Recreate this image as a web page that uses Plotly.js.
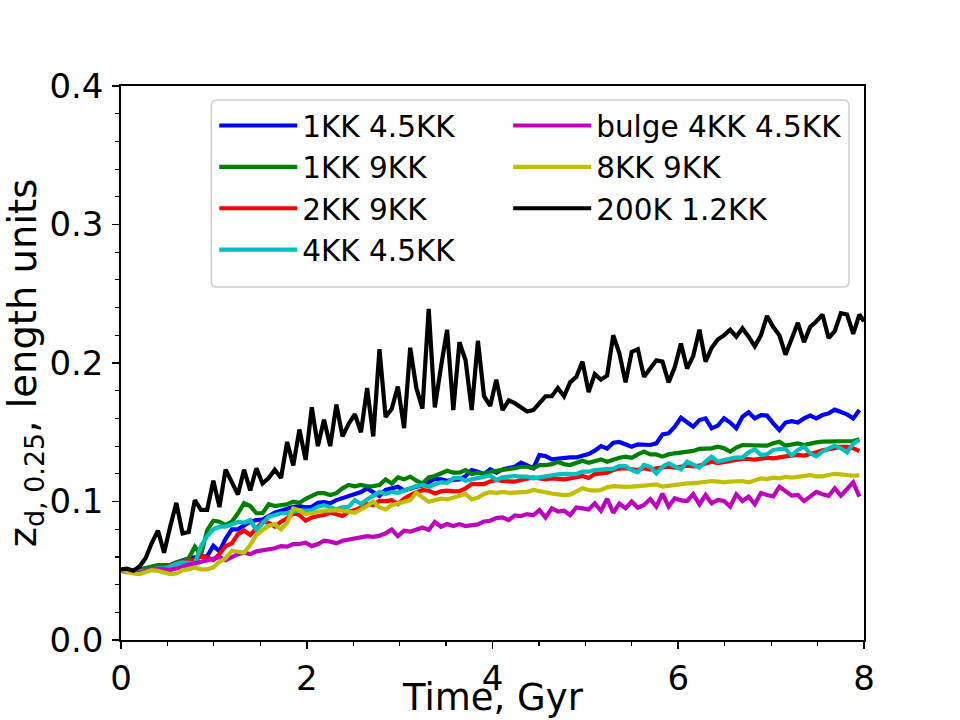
<!DOCTYPE html>
<html><head><meta charset="utf-8">
<script src="https://cdn.plot.ly/plotly-3.0.1.min.js"></script>
<style>html,body{margin:0;padding:0;background:#fff}#chart{width:960px;height:720px}</style>
</head><body><div id="chart"></div>
<script>
// Time, Gyr (snapshots of the coloured runs)
const time = [0,0.066,0.133,0.199,0.265,0.331,0.398,0.464,0.530,0.596,
0.663,0.729,0.795,0.861,0.928,0.994,1.060,1.126,1.193,1.259,
1.325,1.391,1.458,1.524,1.590,1.656,1.723,1.789,1.855,1.921,
1.988,2.054,2.120,2.186,2.253,2.319,2.385,2.451,2.518,2.584,
2.650,2.716,2.783,2.849,2.915,2.981,3.048,3.114,3.180,3.246,
3.313,3.379,3.445,3.511,3.578,3.644,3.710,3.776,3.843,3.909,
3.975,4.041,4.108,4.174,4.240,4.306,4.373,4.439,4.505,4.571,
4.638,4.704,4.770,4.836,4.903,4.969,5.035,5.101,5.168,5.234,
5.300,5.366,5.433,5.499,5.565,5.631,5.698,5.764,5.830,5.896,
5.963,6.029,6.095,6.161,6.228,6.294,6.360,6.426,6.493,6.559,
6.625,6.691,6.758,6.824,6.890,6.956,7.023,7.089,7.155,7.221,
7.288,7.354,7.420,7.486,7.553,7.619,7.685,7.751,7.818,7.884,7.950];
// the 200K run has one more snapshot at 8 Gyr
const timeBlack = time.concat([8.0]);

const names = ['1KK 4.5KK','1KK 9KK','2KK 9KK','4KK 4.5KK','bulge 4KK 4.5KK','8KK 9KK','200K 1.2KK'];

const run1KK45 = [0.050,0.050,0.049,0.050,0.051,0.052,0.052,0.053,0.054,0.056,
0.0577,0.059,0.0597,0.060,0.0606,0.068,0.064,0.073,0.0799,0.0799,
0.083,0.0854,0.0866,0.087,0.0895,0.0919,0.0934,0.0948,0.0962,0.0967,
0.0958,0.0962,0.099,0.0996,0.0987,0.101,0.1023,0.104,0.1052,0.1068,
0.1095,0.107,0.104,0.1083,0.1095,0.1107,0.108,0.1095,0.1107,0.1116,
0.114,0.1164,0.116,0.115,0.1155,0.116,0.1184,0.1227,0.1215,0.1198,
0.1232,0.1208,0.1232,0.124,0.1251,0.128,0.1263,0.124,0.1335,0.1328,
0.1304,0.1311,0.1318,0.1318,0.1318,0.1333,0.1343,0.1367,0.140,0.1383,
0.1424,0.143,0.1415,0.1396,0.1413,0.1408,0.1408,0.142,0.1485,0.1492,
0.154,0.1605,0.1576,0.154,0.1588,0.160,0.1528,0.1548,0.160,0.157,
0.1528,0.1612,0.1644,0.160,0.1624,0.162,0.1564,0.1516,0.157,0.158,
0.157,0.160,0.162,0.160,0.1624,0.1636,0.1663,0.1649,0.1629,0.160,0.1661];

const run1KK9 = [0.050,0.050,0.049,0.051,0.052,0.053,0.054,0.054,0.054,0.056,
0.057,0.059,0.0674,0.0614,0.0794,0.0861,0.0854,0.083,0.0854,0.0915,
0.0987,0.0967,0.0915,0.0915,0.098,0.0967,0.0975,0.098,0.0999,0.099,
0.102,0.104,0.106,0.106,0.1047,0.106,0.1095,0.112,0.111,0.112,
0.111,0.1111,0.1119,0.116,0.113,0.1174,0.116,0.118,0.115,0.113,
0.1174,0.1184,0.120,0.1222,0.1208,0.1208,0.1227,0.1198,0.1208,0.1198,
0.1215,0.122,0.1232,0.1232,0.124,0.1251,0.1251,0.124,0.1263,0.1263,
0.127,0.1285,0.127,0.1263,0.128,0.1294,0.128,0.1294,0.1304,0.1287,
0.1304,0.1316,0.1324,0.1316,0.134,0.136,0.134,0.134,0.1324,0.134,
0.1348,0.1355,0.1365,0.1365,0.138,0.138,0.1384,0.1396,0.1384,0.136,
0.139,0.1408,0.1408,0.1403,0.1403,0.1403,0.142,0.1432,0.1403,0.1413,
0.142,0.1408,0.142,0.1427,0.1432,0.1432,0.1432,0.1432,0.1432,0.1437,0.145];

const run2KK9 = [0.050,0.050,0.049,0.050,0.050,0.051,0.052,0.052,0.054,0.055,
0.0565,0.057,0.058,0.0606,0.0597,0.0577,0.062,0.0678,0.0698,0.0765,
0.079,0.0758,0.0806,0.0854,0.0847,0.0818,0.0854,0.0878,0.0915,0.0902,
0.0861,0.0885,0.0895,0.0902,0.092,0.091,0.0895,0.0926,0.0938,0.0958,
0.098,0.0975,0.1005,0.1003,0.101,0.0981,0.102,0.1046,0.1063,0.1083,
0.1078,0.1058,0.1073,0.1078,0.1073,0.1075,0.1095,0.1126,0.1126,0.1126,
0.1145,0.1155,0.1148,0.1143,0.1143,0.1155,0.1164,0.1174,0.1167,0.116,
0.1167,0.116,0.116,0.1167,0.1179,0.1184,0.117,0.1198,0.1203,0.1208,
0.1227,0.1238,0.124,0.123,0.1227,0.124,0.123,0.124,0.1244,0.1251,
0.1244,0.1251,0.1259,0.1254,0.1259,0.1275,0.1287,0.1278,0.1287,0.1292,
0.130,0.1307,0.1307,0.1302,0.1309,0.1316,0.1312,0.1321,0.1326,0.1331,
0.1336,0.1331,0.134,0.1355,0.1369,0.1379,0.1389,0.1394,0.1394,0.1384,0.1365];

const run4KK45 = [0.050,0.050,0.049,0.050,0.050,0.051,0.052,0.052,0.053,0.055,
0.056,0.0558,0.0553,0.0678,0.075,0.0799,0.0818,0.0818,0.0837,0.0852,
0.0847,0.0866,0.0794,0.0842,0.089,0.0902,0.0915,0.0915,0.0931,0.0938,
0.0934,0.0938,0.0962,0.0974,0.0962,0.0943,0.0958,0.0962,0.101,0.0982,
0.1015,0.104,0.107,0.1054,0.107,0.1063,0.1083,0.1095,0.1111,0.1119,
0.1107,0.1126,0.114,0.1135,0.1167,0.117,0.115,0.116,0.1167,0.1174,
0.1188,0.1155,0.1174,0.1179,0.1184,0.1179,0.1179,0.1167,0.1174,0.1188,
0.1188,0.1196,0.120,0.1196,0.1198,0.1215,0.1215,0.1227,0.1232,0.1232,
0.1237,0.1257,0.1255,0.1227,0.1211,0.1264,0.1251,0.1203,0.1251,0.1275,
0.1256,0.1232,0.1288,0.1264,0.1244,0.1288,0.1324,0.1288,0.1297,0.1304,
0.1319,0.1317,0.1355,0.1377,0.1336,0.1341,0.1372,0.1379,0.1379,0.1331,
0.1372,0.1396,0.1348,0.1326,0.136,0.1384,0.1403,0.1384,0.1355,0.1418,0.1444];

const runBulge = [0.050,0.049,0.049,0.0486,0.050,0.0505,0.0515,0.051,0.0505,0.0517,
0.0534,0.0544,0.0553,0.0565,0.0577,0.0587,0.0597,0.0577,0.0601,0.062,
0.063,0.062,0.064,0.0645,0.0654,0.0662,0.0678,0.0674,0.0693,0.0693,
0.0703,0.0678,0.0693,0.0717,0.071,0.0698,0.0717,0.0727,0.0734,0.0741,
0.075,0.0745,0.0753,0.077,0.0798,0.075,0.0789,0.0782,0.0794,0.0813,
0.0794,0.0852,0.0818,0.0837,0.0823,0.0837,0.0823,0.0827,0.0835,0.0856,
0.0861,0.088,0.0885,0.0866,0.090,0.0895,0.0909,0.090,0.0938,0.0885,
0.095,0.0928,0.0933,0.0902,0.0957,0.095,0.0943,0.0986,0.0933,0.102,
0.0919,0.0985,0.0951,0.0999,0.0955,0.0975,0.1018,0.0963,0.1057,0.0963,
0.1023,0.1008,0.1004,0.1052,0.098,0.1047,0.0987,0.1011,0.1004,0.0963,
0.1052,0.1004,0.1035,0.098,0.1061,0.1047,0.1037,0.1107,0.107,0.1042,
0.1047,0.1004,0.1035,0.107,0.1052,0.104,0.1095,0.1042,0.109,0.1138,0.1035];

const run8KK9 = [0.0505,0.0493,0.048,0.0476,0.0493,0.0505,0.050,0.0486,0.0476,0.048,
0.0505,0.051,0.0524,0.051,0.051,0.0524,0.0565,0.059,0.0645,0.0637,
0.063,0.0686,0.0758,0.0794,0.0823,0.0837,0.0799,0.0847,0.095,0.0938,
0.091,0.0915,0.0926,0.0934,0.0934,0.0938,0.0934,0.0924,0.0919,0.0943,
0.0967,0.100,0.0957,0.0943,0.0974,0.0986,0.0998,0.101,0.1063,0.1034,
0.0998,0.101,0.102,0.1015,0.1029,0.1046,0.1054,0.1015,0.1029,0.1054,
0.1068,0.1063,0.107,0.1063,0.1063,0.1063,0.107,0.1083,0.1073,0.1066,
0.1058,0.1051,0.1046,0.1049,0.1073,0.1095,0.1083,0.1078,0.1083,0.1102,
0.1111,0.1107,0.1105,0.1107,0.1114,0.1114,0.1119,0.1124,0.1107,0.1114,
0.1124,0.1131,0.1131,0.1131,0.1138,0.1138,0.1148,0.1143,0.1138,0.1143,
0.1148,0.1148,0.1138,0.1155,0.1167,0.1162,0.1172,0.1167,0.1177,0.1172,
0.1179,0.1191,0.1191,0.1182,0.1182,0.1191,0.120,0.1196,0.1191,0.1186,0.1191];

const run200K = [0.051,0.0515,0.050,0.053,0.059,0.070,0.079,0.063,0.082,0.099,
0.077,0.078,0.101,0.094,0.094,0.115,0.096,0.123,0.114,0.105,
0.123,0.108,0.124,0.113,0.117,0.123,0.117,0.143,0.126,0.152,
0.130,0.168,0.140,0.159,0.140,0.170,0.147,0.156,0.163,0.150,
0.182,0.147,0.210,0.161,0.167,0.183,0.153,0.211,0.182,0.167,
0.239,0.168,0.197,0.224,0.166,0.215,0.202,0.166,0.216,0.176,
0.169,0.188,0.166,0.173,0.171,0.168,0.165,0.166,0.171,0.176,
0.176,0.182,0.176,0.186,0.190,0.201,0.179,0.192,0.188,0.191,
0.220,0.207,0.186,0.208,0.210,0.190,0.196,0.202,0.201,0.186,
0.197,0.214,0.196,0.205,0.224,0.201,0.211,0.217,0.220,0.224,
0.219,0.225,0.219,0.212,0.220,0.234,0.226,0.220,0.206,0.217,
0.229,0.215,0.226,0.230,0.235,0.218,0.223,0.236,0.235,0.221,
0.235,0.230];

const colors = ['#0000ff','#008000','#ff0000','#00bfbf','#bf00bf','#bfbf00','#000000'];
const series = [run1KK45, run1KK9, run2KK9, run4KK45, runBulge, run8KK9, run200K];
// two legend columns, as in the original
const legendColumn = ['legend','legend','legend','legend','legend2','legend2','legend2'];

const traces = series.map((ys, k) => ({
  type: 'scatter', mode: 'lines',
  x: k === 6 ? timeBlack : time,
  y: ys,
  name: names[k],
  legend: legendColumn[k],
  line: {color: colors[k], width: 4.2}
}));

const axisCommon = {
  showgrid: false, zeroline: false, showline: true, mirror: true,
  linecolor: '#000', linewidth: 1.7,
  ticks: 'outside', ticklen: 7, tickwidth: 1.7, tickcolor: '#000',
  tickfont: {size: 34, color: '#000'}
};

// legend frame (rounded box like the original)
const fx0 = 0.1215, fx1 = 0.9798, fy0 = 0.6372, fy1 = 0.9747, rx = 0.008, ry = 0.011;
const framePath = `M${fx0+rx},${fy0} L${fx1-rx},${fy0} Q${fx1},${fy0} ${fx1},${fy0+ry} ` +
  `L${fx1},${fy1-ry} Q${fx1},${fy1} ${fx1-rx},${fy1} L${fx0+rx},${fy1} ` +
  `Q${fx0},${fy1} ${fx0},${fy1-ry} L${fx0},${fy0+ry} Q${fx0},${fy0} ${fx0+rx},${fy0} Z`;

const legendCommon = {
  orientation: 'v', y: 0.975, xanchor: 'left', yanchor: 'top', itemwidth: 78,
  bordercolor: 'rgba(0,0,0,0)', borderwidth: 0, bgcolor: 'rgba(0,0,0,0)',
  font: {size: 29.5, color: '#000'}, traceorder: 'normal', tracegroupgap: 0
};

const layout = {
  width: 960, height: 720,
  margin: {l: 121, r: 96, t: 86, b: 80, pad: 0},
  paper_bgcolor: '#fff', plot_bgcolor: '#fff',
  font: {family: 'DejaVu Sans', size: 29, color: '#000'},
  showlegend: true,
  xaxis: Object.assign({}, axisCommon, {
    range: [0, 8], tickvals: [0, 2, 4, 6, 8], ticktext: ['0','2','4','6','8'],
    minor: {dtick: 0.5, ticks: 'outside', ticklen: 4, tickwidth: 1.2, tickcolor: '#000'}
  }),
  yaxis: Object.assign({}, axisCommon, {
    range: [0, 0.4], tickvals: [0, 0.1, 0.2, 0.3, 0.4], ticktext: ['0.0','0.1','0.2','0.3','0.4'],
    ticklabelstandoff: 2,
    minor: {dtick: 0.02, ticks: 'outside', ticklen: 4, tickwidth: 1.2, tickcolor: '#000'},
    title: {text: 'z<sub>d, 0.25</sub>, length units', font: {size: 38.5}, standoff: 1}
  }),
  // x-axis title placed like the original, just above the bottom edge
  annotations: [{text: 'Time, Gyr', xref: 'paper', yref: 'paper', x: 0.5, y: -0.1038,
    xanchor: 'center', yanchor: 'middle', showarrow: false, font: {size: 37, color: '#000'}}],
  shapes: [{type: 'path', xref: 'paper', yref: 'paper', path: framePath,
    line: {color: '#cccccc', width: 1.5}, fillcolor: 'rgba(255,255,255,0.85)', layer: 'below'}],
  legend: Object.assign({}, legendCommon, {x: 0.1255}),
  legend2: Object.assign({}, legendCommon, {x: 0.5211})
};

Plotly.newPlot('chart', traces, layout, {staticPlot: true, displayModeBar: false});
</script>
</body></html>
